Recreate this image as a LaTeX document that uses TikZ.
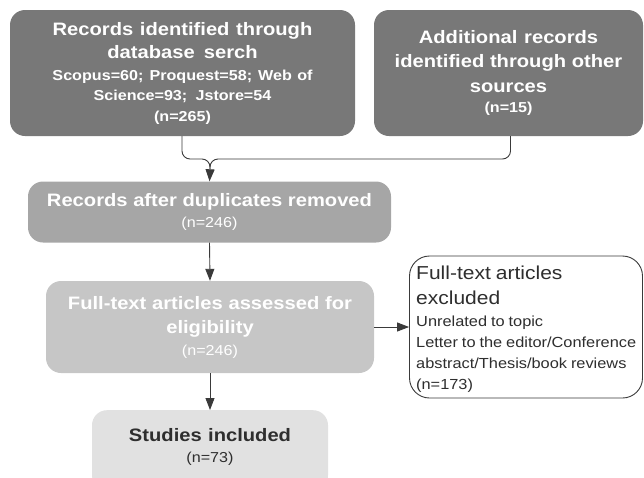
\documentclass[tikz,border=0pt]{standalone}
\usepackage{fontspec}
\setmainfont{Liberation Sans}[FakeStretch=1.12]
\usetikzlibrary{arrows.meta}
\definecolor{gA}{HTML}{787878}
\definecolor{gB}{HTML}{A6A6A6}
\definecolor{gC}{HTML}{C6C6C6}
\definecolor{gD}{HTML}{E1E1E1}
\definecolor{lineC}{HTML}{3A3A3A}
\definecolor{txtD}{HTML}{2E2E2E}
\tikzset{
  box/.style={rounded corners=15pt, draw=none, inner sep=0pt},
  lbl/.style={align=center, inner sep=0pt},
  conn/.style={draw=lineC, line width=0.9pt},
  arr/.style={conn, -{Triangle[length=12pt,width=9pt]}},
}
\newcommand{\wsp}{\spaceskip=0.27em plus 0.05em\relax}
\newcommand{\fBigB}{\fontsize{18}{23.5}\selectfont\bfseries\wsp}
\newcommand{\fBigR}{\fontsize{18.75}{25}\selectfont\wsp}
\newcommand{\fSmB}{\fontsize{14.4}{20.5}\selectfont\bfseries\wsp}
\newcommand{\fSmR}{\fontsize{14.4}{20.5}\selectfont\wsp}
\begin{document}
\begin{tikzpicture}[x=1pt,y=-1pt]
\useasboundingbox (0,0) rectangle (644,477);
\node[box, fill=gA, minimum width=345pt, minimum height=126pt] (b1) at (182.5,73) {};
\node[lbl, text=white, text width=340pt] (b1t) at (b1.center)
  {{\fBigB Records identified through\\database serch\par}\vspace{1pt}
   {\fSmB Scopus=60; Proquest=58; Web of\\Science=93; Jstore=54\\(n=265)\par}};
\node[box, fill=gA, minimum width=269pt, minimum height=126pt] (b2) at (508.5,73) {};
\node[lbl, text=white, text width=265pt] (b2t) at (b2.center)
  {{\fontsize{18}{24.5}\selectfont\bfseries\wsp Additional records\\identified through other\\sources\par}\vspace{0pt}
   {\fSmB (n=15)\par}};
\node[box, fill=gB, minimum width=363pt, minimum height=61pt] (b3) at (209.5,212) {};
\node[lbl, text=white, text width=360pt] (b3t) at (b3.center)
  {{\fBigB Records after duplicates removed\par}\vspace{1pt}
   {\fSmR (n=246)\par}};
\node[box, fill=gC, minimum width=328pt, minimum height=92pt] (b4) at (210,327) {};
\node[lbl, text=white, text width=325pt] (b4t) at (b4.center)
  {{\fontsize{18}{24.5}\selectfont\bfseries\wsp Full-text articles assessed for\\eligibility\par}\vspace{1pt}
   {\fSmR (n=246)\par}};
\node[box, fill=gD, minimum width=236pt, minimum height=80pt, anchor=north] (b5) at (210,410) {};
\node[lbl, text=txtD, text width=230pt, anchor=north] (b5t) at (210,428)
  {{\fBigB Studies included\par}\vspace{1pt}{\fSmR (n=73)\par}};
\node[draw=lineC, line width=0.9pt, rounded corners=20pt, fill=white,
  minimum width=233pt, minimum height=142pt, inner sep=0pt] (ex) at (526,327) {};
\node[text=txtD, align=left, text width=228pt, anchor=north west, inner sep=0pt] (ext) at (416,266)
  {{\fBigR Full-text articles\\excluded\par}\vspace{0pt}
   {\fontsize{14.6}{21.3}\selectfont\wsp Unrelated to topic\\Letter to the editor/Conference\\abstract/Thesis/book reviews\\(n=173)\par}};
\coordinate (m) at (210,159);
\coordinate (m2) at (210,169);
\draw[conn, rounded corners=8pt] ([xshift=-0.5pt]b1.south) |- (m) -- (m2);
\draw[conn, rounded corners=8pt] ([xshift=2pt]b2.south) |- (m) -- (m2);
\draw[arr] ([yshift=-2pt]m2) -- (b3.north);
\draw[arr] (b3.south) -- (b4.north);
\draw[arr] (b4.south) -- (b5.north);
\draw[arr] (b4.east) -- (ex.west);
\end{tikzpicture}
\end{document}
